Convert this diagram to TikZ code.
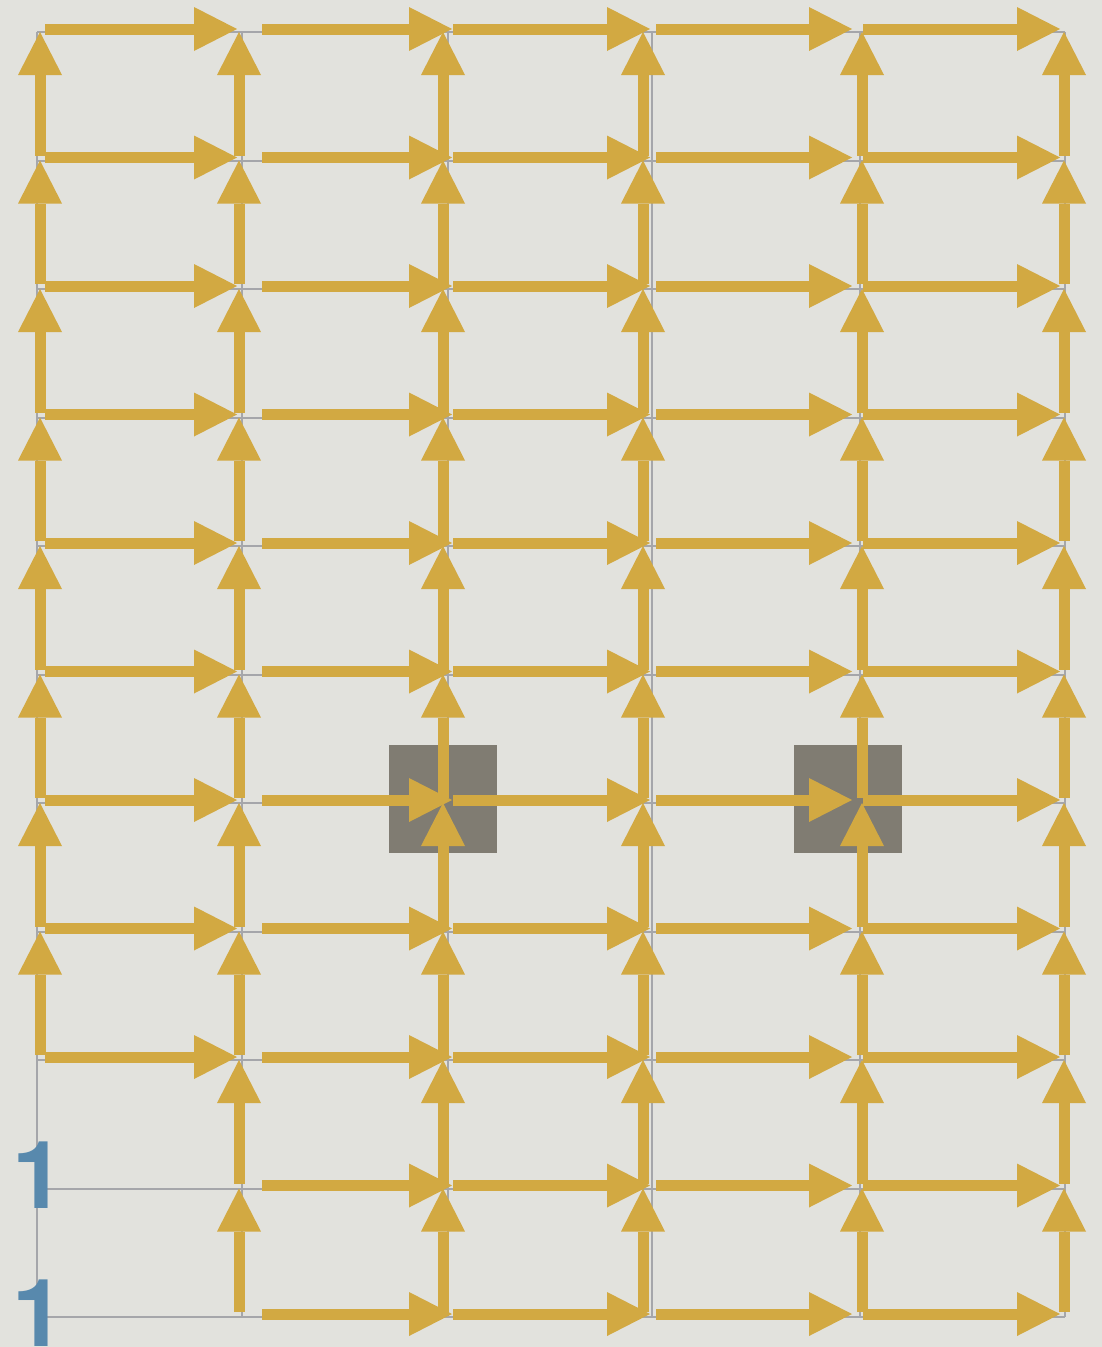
\documentclass[tikz,border=0pt]{standalone}
\usepackage{fontspec}
\newfontfamily\labelfont{TeX Gyre Heros}
\usetikzlibrary{arrows.meta}
\definecolor{bgcol}{HTML}{E2E2DD}
\definecolor{arrowcol}{HTML}{D2A942}
\definecolor{gridcol}{HTML}{A5A6AA}
\definecolor{obstcol}{HTML}{807C72}
\definecolor{labelcol}{HTML}{5889AD}
\begin{document}
\begin{tikzpicture}[x=1pt,y=-1pt,
  flow/.style={draw=arrowcol, line width=11pt, -{Triangle[length=43pt,width=44pt,line width=0pt]}},
  gridline/.style={draw=gridcol, line width=2pt},
  obstacle/.style={fill=obstcol, draw=none, minimum size=108pt, inner sep=0pt},
  numlabel/.style={text=labelcol, font=\labelfont\bfseries\fontsize{94}{94}\selectfont, inner sep=0pt, anchor=base west}]
\fill[bgcol] (0,0) rectangle (1102,1347);
\useasboundingbox (0,0) rectangle (1102,1347);
\clip (0,0) rectangle (1102,1347);
% grid points
\foreach \c/\x in {0/37,1/242,2/448,3/652,4/860,5/1065}{
  \foreach \r in {0,...,10}{
    \coordinate (g-\c-\r) at (\x, {32+128.5*\r});
  }
}
% grid lines
\foreach \r in {0,...,10}{\draw[gridline] (g-0-\r) -- (g-5-\r);}
\foreach \c in {0,...,5}{\draw[gridline] (g-\c-0) -- (g-\c-10);}
% obstacles
\node[obstacle] (obs-a) at (442.5,798.5) {};
\node[obstacle] (obs-b) at (847.5,798.5) {};
% horizontal arrows
\foreach \c/\sx/\ex in {0/8/-5, 1/20/4, 2/5/-2, 3/4/-8, 4/3/-5}{
  \pgfmathtruncatemacro\nc{\c+1}
  \foreach \r in {0,...,10}{
    \pgfmathtruncatemacro\skipit{(\c==0)&&(\r>8)}
    \ifnum\skipit=0
      \draw[flow] ([xshift=\sx pt, yshift=3pt]g-\c-\r) -- ([xshift=\ex pt, yshift=3pt]g-\nc-\r);
    \fi
  }
}
% vertical arrows
\foreach \c/\vx in {0/3,1/-3,2/-5,3/-9,4/2,5/-1}{
  \foreach \r in {0,...,9}{
    \pgfmathtruncatemacro\lo{\r+1}
    \pgfmathtruncatemacro\skipit{(\c==0)&&(\lo>8)}
    \ifnum\skipit=0
      \draw[flow] ([xshift=\vx pt, yshift=5pt]g-\c-\lo) -- ([xshift=\vx pt]g-\c-\r);
    \fi
  }
}
% labels
\node[numlabel] (one-a) at (12.5,1208) {1};
\node[numlabel] (one-b) at (12.5,1346) {1};
\end{tikzpicture}
\end{document}
